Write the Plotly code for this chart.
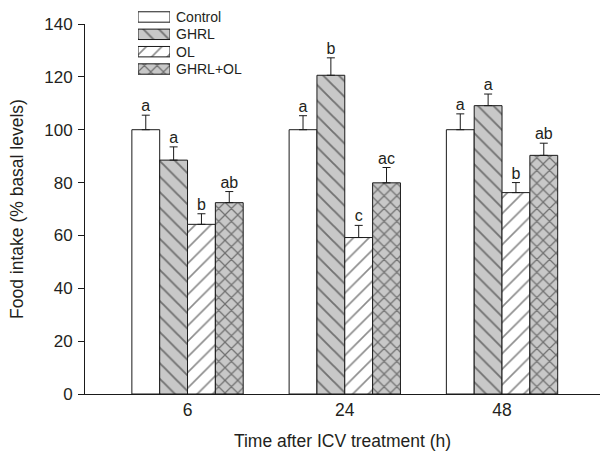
import plotly.graph_objects as go

# ---- data ----
times = ["6", "24", "48"]
series_names = ["Control", "GHRL", "OL", "GHRL+OL"]
control = [100, 100, 100]
control_err = [5.5, 5.3, 6.0]
ghrl = [88.5, 120.6, 109.1]
ghrl_err = [5.0, 6.6, 4.4]
ol = [64.2, 59.2, 76.2]
ol_err = [4.0, 4.6, 3.8]
combo = [72.4, 79.9, 90.3]
combo_err = [4.2, 5.8, 4.6]
control_sig = ["a", "a", "a"]
ghrl_sig = ["a", "b", "a"]
ol_sig = ["b", "c", "b"]
combo_sig = ["ab", "ac", "ab"]

values = [control, ghrl, ol, combo]
errors = [control_err, ghrl_err, ol_err, combo_err]
letters = [control_sig, ghrl_sig, ol_sig, combo_sig]

# ---- styles ----
fills = ["white", "#c8c8c8", "white", "#c8c8c8"]
shapes = ["", "\\", "/", "x"]
psize = [10, 11, 11, 9]
psol = [0.1, 0.17, 0.15, 0.26]
FONT = "Liberation Sans, Arial, sans-serif"
TXT = "#231f20"
LINE = "#1a1a1a"
bar_w = 0.177


def marker(k):
    return dict(color=fills[k], line=dict(color=LINE, width=1),
                pattern=dict(shape=shapes[k], fgcolor=LINE, bgcolor=fills[k],
                             size=psize[k], solidity=psol[k], fillmode="overlay"))


fig = go.Figure()
n = len(values)
for k in range(n):
    offs = (k - (n - 1) / 2) * bar_w
    xs = [i + offs for i in range(len(times))]
    fig.add_trace(go.Bar(
        x=xs, y=values[k], width=bar_w, name=series_names[k], marker=marker(k),
        showlegend=False,
        error_y=dict(type="data", array=errors[k], arrayminus=[0] * len(times),
                     symmetric=False, color=LINE, thickness=1, width=4),
    ))
for k in range(n):
    offs = (k - (n - 1) / 2) * bar_w
    xs = [i + offs for i in range(len(times))]
    tops = [v + e for v, e in zip(values[k], errors[k])]
    fig.add_trace(go.Scatter(
        x=xs, y=tops, mode="text", text=letters[k], textposition="top center",
        textfont=dict(size=16, color=TXT, family=FONT), showlegend=False,
        cliponaxis=False, hoverinfo="skip"))

# legend swatches drawn as bars on a small inset axis
for k in range(n):
    fig.add_trace(go.Bar(
        x=[1], y=[series_names[k]], orientation="h", width=0.6, marker=marker(k),
        xaxis="x2", yaxis="y2", showlegend=False, hoverinfo="skip"))

fig.update_layout(
    width=601, height=451, barmode="overlay",
    margin=dict(l=85, r=1, t=0, b=57),
    paper_bgcolor="white", plot_bgcolor="white",
    font=dict(family=FONT, size=17, color=TXT),
    showlegend=False,
    xaxis=dict(domain=[0, 1], range=[-0.652, 2.623], tickvals=[0, 1, 2], ticktext=times,
               showline=True, linecolor=LINE, linewidth=1, ticks="",
               showgrid=False, zeroline=False, automargin=False,
               tickfont=dict(size=17.5),
               title=dict(text="Time after ICV treatment (h)", standoff=16,
                          font=dict(size=17.5))),
    yaxis=dict(domain=[0, 370 / 394], range=[0, 140], tickvals=list(range(0, 141, 20)),
               showline=True, linecolor=LINE, linewidth=1, ticks="outside",
               ticklen=6, tickcolor=LINE, showgrid=False, zeroline=False,
               automargin=False, tickfont=dict(size=17), ticklabelstandoff=2,
               title=dict(text="Food intake (% basal levels)", standoff=16,
                          font=dict(size=17.5))),
    xaxis2=dict(domain=[53 / 515, 85 / 515], range=[0, 1], anchor="y2",
                visible=False, fixedrange=True),
    yaxis2=dict(domain=[(394 - 77.7) / 394, (394 - 8.3) / 394], anchor="x2",
                type="category", categoryorder="array", categoryarray=series_names,
                tickmode="array", tickvals=series_names, ticktext=series_names,
                autorange="reversed", side="right", ticks="", showline=False,
                showgrid=False, zeroline=False, ticklabelstandoff=5, automargin=False,
                tickfont=dict(size=14, color=TXT, family=FONT), fixedrange=True),
)
fig.write_html("out.html")
